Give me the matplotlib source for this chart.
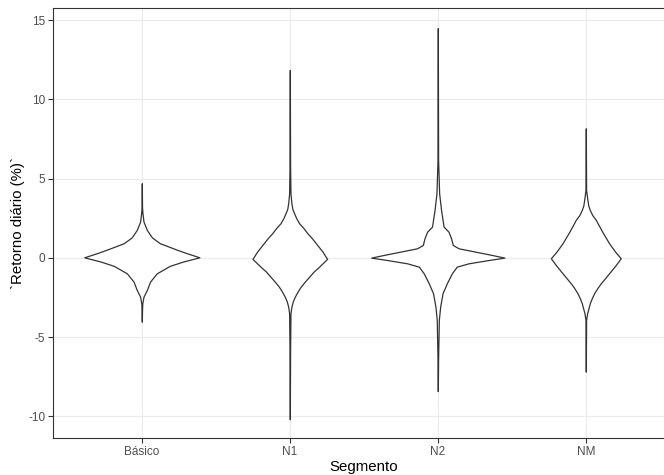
import matplotlib
matplotlib.use('Agg')
import matplotlib.pyplot as plt
import numpy as np

plt.rcParams['font.family'] = ['Liberation Sans', 'DejaVu Sans']

segmentos = ['Básico', 'N1', 'N2', 'NM']
y_ticks = [-10, -5, 0, 5, 10, 15]

# violin outlines: return (%) and half-width (x units)
basico_y = [4.71, 3.2, 2.82, 2.29, 1.77, 1.30, 0.93, 0.50, 0.30, 0.04,
            -0.23, -0.50, -0.97, -1.49, -2.02, -2.44, -2.86, -3.3, -4.02]
basico_w = [0, 0.0014, 0.0045, 0.0115, 0.034, 0.068, 0.122, 0.243, 0.304, 0.389,
            0.277, 0.189, 0.101, 0.056, 0.034, 0.0115, 0.0034, 0.0014, 0]

n1_y = [11.86, 5.76, 4.08, 3.45, 3.10, 2.82, 2.50, 2.19, 1.90, 1.56, 1.25, 0.93,
        0.40, -0.06, -0.55, -0.85, -1.18, -1.50, -1.81, -2.10, -2.44, -2.75,
        -3.07, -3.49, -5.8, -10.18]
n1_w = [0, 0.002, 0.0045, 0.011, 0.017, 0.029, 0.044, 0.063, 0.091, 0.119, 0.149,
        0.176, 0.221, 0.252, 0.198, 0.162, 0.131, 0.101, 0.074, 0.054, 0.034,
        0.020, 0.011, 0.0045, 0.002, 0]

n2_y = [14.5, 6.18, 4.08, 3.03, 1.98, 1.66, 1.24, 0.82, 0.61, 0.40, 0.19, 0.02,
        -0.13, -0.34, -0.55, -0.97, -1.60, -2.23, -3.07, -3.91, -6.4, -8.4]
n2_w = [0, 0.002, 0.009, 0.022, 0.039, 0.072, 0.090, 0.101, 0.140, 0.252, 0.365, 0.45,
        0.343, 0.207, 0.128, 0.095, 0.061, 0.032, 0.016, 0.007, 0.002, 0]

nm_y = [8.18, 4.29, 3.66, 3.30, 3.03, 2.70, 2.40, 2.00, 1.56, 0.93, 0.40, -0.02,
        -0.44, -0.97, -1.30, -1.60, -1.90, -2.23, -2.55, -2.86, -3.49, -3.91, -7.17]
nm_w = [0, 0.002, 0.011, 0.017, 0.027, 0.044, 0.068, 0.091, 0.117, 0.157, 0.198, 0.236,
        0.203, 0.157, 0.128, 0.101, 0.078, 0.056, 0.040, 0.027, 0.009, 0.002, 0]

perfis = [(basico_y, basico_w), (n1_y, n1_w), (n2_y, n2_w), (nm_y, nm_w)]

W, H = 664, 475
fig = plt.figure(figsize=(W / 100, H / 100), dpi=100)
ax = fig.add_axes([53 / W, 37 / H, 621.6 / W, 430 / H])

for i, (yy, ww) in enumerate(perfis):
    yy = np.array(yy)
    ww = np.array(ww)
    ax.fill_betweenx(yy, i - ww, i + ww, facecolor='white', edgecolor='#333333',
                     linewidth=0.9, zorder=3)

ax.set_xlim(-0.6, 3.6)
ax.set_ylim(-11.36, 15.77)
ax.set_xticks(range(len(segmentos)))
ax.set_xticklabels(segmentos)
ax.set_yticks(y_ticks)
ax.set_yticklabels([str(t) for t in y_ticks])

ax.grid(True, color='#EBEBEB', linewidth=0.8, zorder=0)
ax.set_axisbelow(True)
for s in ax.spines.values():
    s.set_color('#333333')
    s.set_linewidth(0.8)

ax.tick_params(axis='both', length=3.5, width=0.8, color='#333333',
               labelcolor='#4D4D4D', labelsize=8.5, pad=2)

ax.set_xlabel('Segmento', fontsize=10.8, color='black', labelpad=2)
ax.set_ylabel('`Retorno diário (%)`', fontsize=10.8, color='black', labelpad=2)

fig.savefig('out.png', dpi=100)
